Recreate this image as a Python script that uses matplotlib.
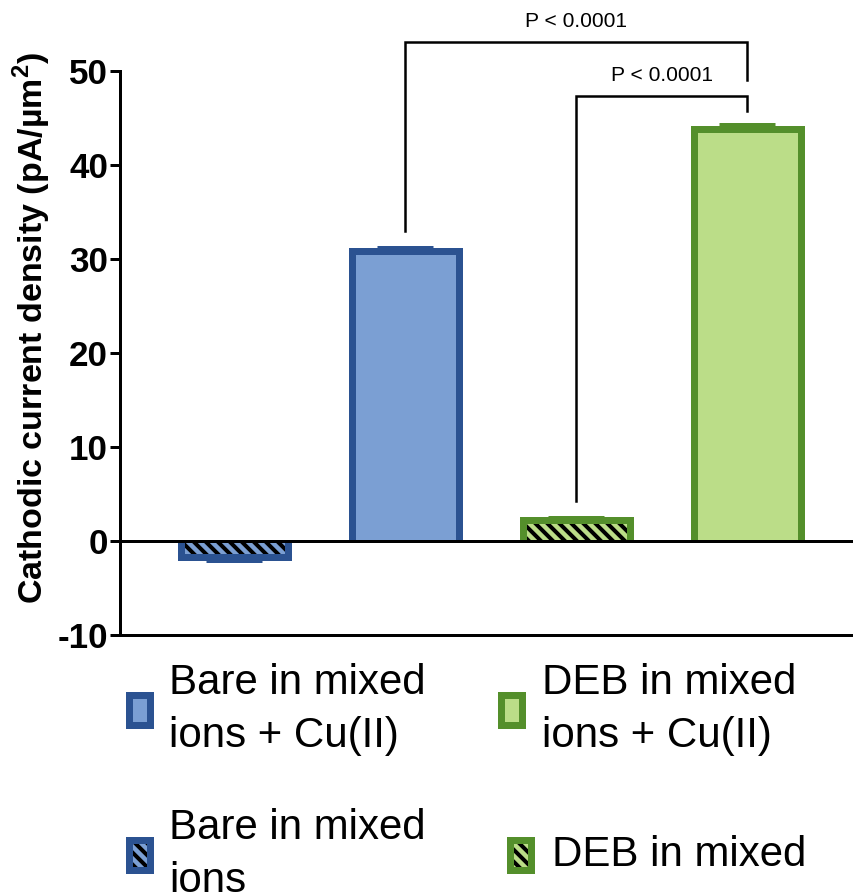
import matplotlib
matplotlib.use('Agg')
import matplotlib.pyplot as plt
import matplotlib.patches as mpatches

plt.rcParams['font.family'] = ['Liberation Sans', 'DejaVu Sans']
plt.rcParams['mathtext.fontset'] = 'custom'
plt.rcParams['mathtext.rm'] = 'Liberation Sans'
plt.rcParams['mathtext.bf'] = 'Liberation Sans:bold'
plt.rcParams['hatch.linewidth'] = 4
plt.rcParams['axes.unicode_minus'] = False

# Данные
groups = ['Bare in mixed ions', 'Bare in mixed ions + Cu(II)',
          'DEB in mixed ions', 'DEB in mixed ions + Cu(II)']
means = [-1.65, 30.8, 2.2, 43.8]
errs = [0.5, 0.45, 0.4, 0.6]
hatched = [True, False, True, False]
edge_colors = ['#2B5291', '#2B5291', '#548F2B', '#548F2B']
fill_colors = ['#7B9FD3', '#7B9FD3', '#BBDD88', '#BBDD88']

# Скобки значимости
pairs = [(1, 3), (2, 3)]
bracket_y = [53.1, 47.3]
left_leg_end = [33.0, 4.3]
right_leg_end = [49.0, 45.75]
p_text_y = [55.3, 49.5]
p_labels = ['P < 0.0001', 'P < 0.0001']

yticks = [-10, 0, 10, 20, 30, 40, 50]

W, H = 853, 894
DPI = 72
fig = plt.figure(figsize=(W / DPI, H / DPI), dpi=DPI)
fig.patch.set_facecolor('white')


def fx(px):
    return px / W


def fy(py):
    return 1 - py / H


ax = fig.add_axes([fx(120), fy(635), fx(853) - fx(120), fy(71) - fy(635)])

x = list(range(len(groups)))
width = 0.626
hatch = '\\\\'

bars = ax.bar(x, means, width=width, color=fill_colors, linewidth=0, zorder=2)
for b, h in zip(bars, hatched):
    if h:
        b.set_hatch(hatch)
        b.set_edgecolor('black')

# Контуры столбцов (без нижней грани)
for b, v, ec in zip(bars, means, edge_colors):
    x0 = b.get_x()
    x1 = x0 + b.get_width()
    ax.plot([x0, x0, x1, x1], [0, v, v, 0], color=ec, lw=7,
            solid_joinstyle='miter', solid_capstyle='butt', zorder=3)

# Планки погрешностей (односторонние)
for xi, v, e, ec in zip(x, means, errs, edge_colors):
    yerr = [[e], [0]] if v < 0 else [[0], [e]]
    ax.errorbar([xi], [v], yerr=yerr, fmt='none', ecolor=ec,
                elinewidth=3, capsize=28, capthick=3, zorder=2.5)

ax.axhline(0, color='black', lw=3, zorder=4)

# Скобки
for (a, b), yb, la, ra, ty, lab in zip(pairs, bracket_y, left_leg_end,
                                       right_leg_end, p_text_y, p_labels):
    ax.plot([a, a, b, b], [la, yb, yb, ra], color='black', lw=2.5,
            clip_on=False, solid_joinstyle='miter', zorder=5)
    ax.text((a + b) / 2, ty, lab, ha='center', va='center', fontsize=21,
            clip_on=False)

ax.set_xlim(-0.667, -0.667 + 733 / 171)
ax.set_ylim(-10, 50)
ax.set_yticks(yticks)
ax.set_xticks([])
for s in ['top', 'right']:
    ax.spines[s].set_visible(False)
ax.spines['left'].set_linewidth(3)
ax.spines['bottom'].set_linewidth(3)
ax.tick_params(axis='y', length=10, width=3, pad=2, labelsize=35)
for t in ax.get_yticklabels():
    t.set_fontweight('bold')

ax.set_ylabel(r'Cathodic current density (pA/µm$^{\mathbf{2}}$)',
              fontsize=34, fontweight='bold', va='center')
ax.yaxis.set_label_coords((32 - 120) / 733, 0.545)

# Легенда (ручная раскладка)
leg_labels = ['Bare in mixed\nions + Cu(II)', 'DEB in mixed\nions + Cu(II)',
              'Bare in mixed\nions', 'DEB in mixed']
leg_idx = [1, 3, 0, 2]
leg_marker_x = [125, 497, 125, 506]
leg_marker_y = [691, 691, 836, 836]
leg_text_x = [169, 542, 169, 552]

for lab, gi, mx, my, tx in zip(leg_labels, leg_idx, leg_marker_x,
                               leg_marker_y, leg_text_x):
    mw, mh = 28, 37
    x0, y0 = fx(mx + 3.5), fy(my + mh - 3.5)
    w, h = fx(mw - 7), (mh - 7) / H
    inner = mpatches.Rectangle((x0, y0), w, h, transform=fig.transFigure,
                               facecolor=fill_colors[gi], linewidth=0)
    if hatched[gi]:
        inner.set_hatch(hatch)
        inner.set_edgecolor('black')
    fig.add_artist(inner)
    fig.add_artist(mpatches.Rectangle((x0, y0), w, h, transform=fig.transFigure,
                                      facecolor='none', edgecolor=edge_colors[gi],
                                      linewidth=7, joinstyle='miter'))
    fig.text(fx(tx), fy(my + mh / 2), lab, ha='left', va='center',
             fontsize=42, linespacing=1.4)

fig.savefig('out.png', dpi=DPI, facecolor='white')
